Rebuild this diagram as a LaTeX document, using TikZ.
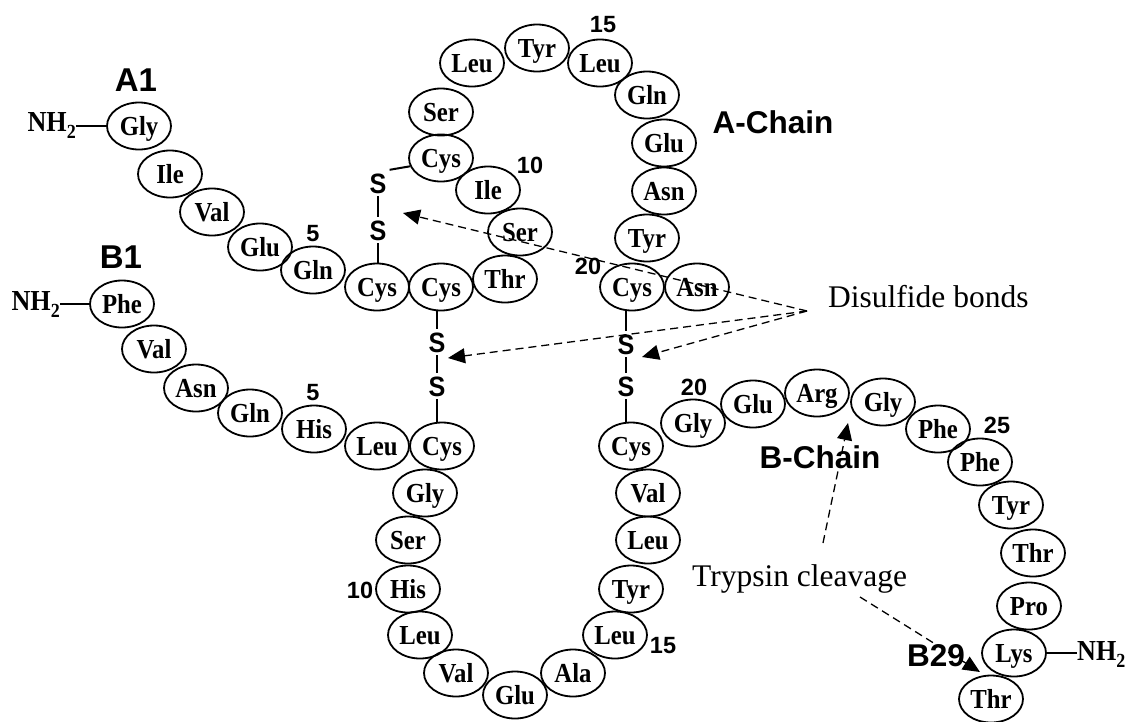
\documentclass[tikz,border=0pt]{standalone}
\usepackage{fontspec}
\setmainfont{Liberation Serif}
\newfontfamily\resf[FakeStretch=0.9]{Liberation Serif}
\newfontfamily\sscond[FakeStretch=0.9]{Liberation Sans}
\newfontfamily\ssf{Liberation Sans}
\usetikzlibrary{shapes.geometric,arrows.meta}
\tikzset{
 res/.style={ellipse, draw, line width=1.8pt, minimum width=64pt, minimum height=47pt, inner sep=0pt,
   font=\resf\bfseries\fontsize{27.5}{28}\selectfont, text height=18.2pt, text depth=0pt},
 sulf/.style={font=\sscond\bfseries\fontsize{28}{28}\selectfont, inner sep=3pt, text height=20pt, text depth=0pt},
 num/.style={font=\ssf\bfseries\fontsize{23.5}{24}\selectfont, inner sep=0pt, text height=16.8pt, text depth=0pt},
 lab/.style={font=\ssf\bfseries\fontsize{31.5}{32}\selectfont, inner sep=0pt, text height=22.6pt, text depth=0pt},
 biglab/.style={font=\ssf\bfseries\fontsize{33}{33}\selectfont, inner sep=0pt, text height=23.6pt, text depth=0pt},
 note/.style={font=\fontsize{31.5}{32}\selectfont, inner sep=0pt, text height=20.9pt, text depth=0pt},
 nh/.style={font=\resf\bfseries\fontsize{29}{29}\selectfont, inner sep=0pt, text height=19.2pt, text depth=0pt},
 bond/.style={line width=2pt},
 dasharrow/.style={line width=1.3pt, dash pattern=on 8pt off 5pt, -{Triangle[length=17pt,width=15pt]}},
}
\newcommand{\nhtwo}{NH\raisebox{-7pt}{\fontsize{20}{20}\selectfont 2}}
\begin{document}
\begin{tikzpicture}[x=1pt,y=-1pt]
\useasboundingbox (0,0) rectangle (1133,721);
% A chain
\node[res] (a1) at (139,126) {Gly};
\node[res] (a2) at (170,174) {Ile};
\node[res] (a3) at (212,212) {Val};
\node[res] (a4) at (260,247) {Glu};
\node[res] (a5) at (313,270) {Gln};
\node[res] (a6) at (377,287) {Cys};
\node[res] (a7) at (441,287) {Cys};
\node[res] (a8) at (505,279) {Thr};
\node[res] (a9) at (520,232) {Ser};
\node[res] (a10) at (488,190) {Ile};
\node[res] (a11) at (441,158) {Cys};
\node[res] (a12) at (441,112) {Ser};
\node[res] (a13) at (472,63) {Leu};
\node[res] (a14) at (537,48) {Tyr};
\node[res] (a15) at (600,63) {Leu};
\node[res] (a16) at (647,95) {Gln};
\node[res] (a17) at (664,143) {Glu};
\node[res] (a18) at (664,191) {Asn};
\node[res] (a19) at (647,238) {Tyr};
\node[res] (a20) at (632,287) {Cys};
\node[res] (a21) at (697,287) {Asn};
% B chain
\node[res] (b1) at (122,304) {Phe};
\node[res] (b2) at (154,349) {Val};
\node[res] (b3) at (196,388) {Asn};
\node[res] (b4) at (250,413) {Gln};
\node[res] (b5) at (314,429) {His};
\node[res] (b6) at (377,446) {Leu};
\node[res] (b7) at (442,446) {Cys};
\node[res] (b8) at (425,493) {Gly};
\node[res] (b9) at (408,540) {Ser};
\node[res] (b10) at (408,589) {His};
\node[res] (b11) at (420,635) {Leu};
\node[res] (b12) at (456,673) {Val};
\node[res] (b13) at (515,695) {Glu};
\node[res] (b14) at (573,673) {Ala};
\node[res] (b15) at (615,635) {Leu};
\node[res] (b16) at (631,589) {Tyr};
\node[res] (b17) at (648,540) {Leu};
\node[res] (b18) at (648,493) {Val};
\node[res] (b19) at (631,446) {Cys};
\node[res] (b20) at (693,423) {Gly};
\node[res] (b21) at (753,404) {Glu};
\node[res] (b22) at (817,393) {Arg};
\node[res] (b23) at (883,402) {Gly};
\node[res] (b24) at (938,429) {Phe};
\node[res] (b25) at (980,462) {Phe};
\node[res] (b26) at (1011,505) {Tyr};
\node[res] (b27) at (1033,553) {Thr};
\node[res] (b28) at (1029,606) {Pro};
\node[res] (b29) at (1014,653) {Lys};
\node[res] (b30) at (991,699) {Thr};
% termini
\node[nh, anchor=east] (nhA) at (76,122) {\nhtwo};
\node[nh, anchor=east] (nhB) at (60,301) {\nhtwo};
\node[nh, anchor=west] (nhC) at (1077,651) {\nhtwo};
\draw[bond] (nhA.east |- a1.west) -- (a1.west);
\draw[bond] (nhB.east |- b1.west) -- (b1.west);
\draw[bond] (b29.east) -- (nhC.west |- b29.east);
% disulfide bridges
\node[sulf] (s1a) at (378,183) {S};
\node[sulf] (s1b) at (378,230) {S};
\node[sulf] (s2a) at (437,342) {S};
\node[sulf] (s2b) at (437,386) {S};
\node[sulf] (s3a) at (626,344) {S};
\node[sulf] (s3b) at (626,386) {S};
\draw[bond] (s1a.north east) -- (a11.195);
\draw[bond] (s1a.south) -- (s1b.north);
\draw[bond] (s1b.south) -- (s1b.south |- a6.north);
\draw[bond] (s2a.north |- a7.south) -- (s2a.north);
\draw[bond] (s2a.south) -- (s2b.north);
\draw[bond] (s2b.south) -- (s2b.south |- b7.north);
\draw[bond] (s3a.north |- a20.south) -- (s3a.north);
\draw[bond] (s3a.south) -- (s3b.north);
\draw[bond] (s3b.south) -- (s3b.south |- b19.north);
% labels
\node[biglab] (lA1) at (136,80) {A1};
\node[biglab] (lB1) at (121,257) {B1};
\node[lab] (lAc) at (773,122) {A-Chain};
\node[lab] (lBc) at (820,457) {B-Chain};
\node[lab] (lB29) at (936,655) {B29};
\node[num] (nA5) at (313,233) {5};
\node[num] (nA10) at (530,165) {10};
\node[num] (nA15) at (603,24) {15};
\node[num] (nA20) at (588,266) {20};
\node[num] (nB5) at (313,392) {5};
\node[num] (nB10) at (360,590) {10};
\node[num] (nB15) at (663,645) {15};
\node[num] (nB20) at (694,387) {20};
\node[num] (nB25) at (997,425) {25};
\node[note, anchor=west] (dis) at (828,297) {Disulfide bonds};
\node[note, anchor=west] (tryp) at (692,576) {Trypsin cleavage};
% dashed arrows
\coordinate (dsrc) at (807,311);
\coordinate (t1) at (403,213);
\coordinate (t2) at (448,358);
\coordinate (t3) at (642,357);
\draw[dasharrow] (dsrc) -- (t1);
\draw[dasharrow] (dsrc) -- (t2);
\draw[dasharrow] (dsrc) -- (t3);
\coordinate (tr1s) at (823,543);
\coordinate (tr1e) at (848,423);
\coordinate (tr2s) at (860,597);
\coordinate (tr2e) at (980,672);
\draw[dasharrow] (tr1s) -- (tr1e);
\draw[dasharrow] (tr2s) -- (tr2e);
\end{tikzpicture}
\end{document}
